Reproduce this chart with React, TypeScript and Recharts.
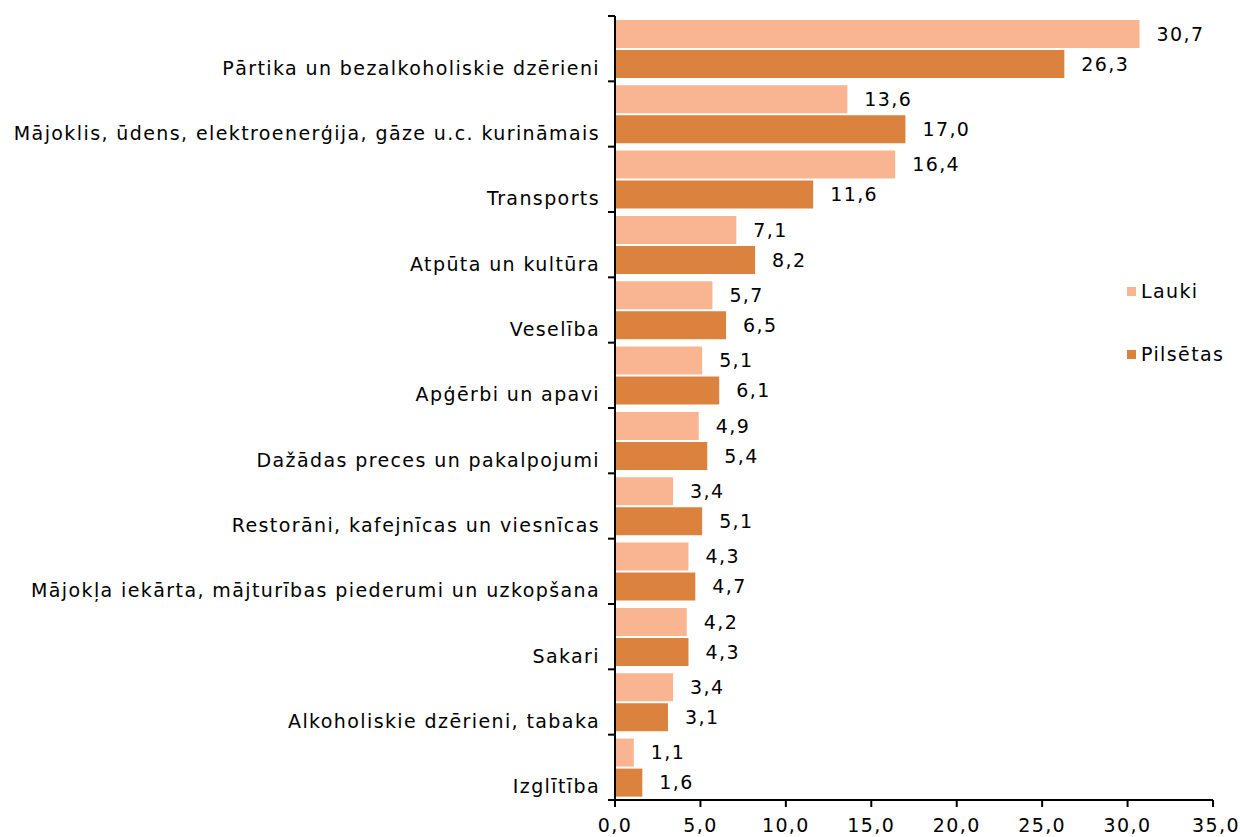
import React from 'react';
import { BarChart, Bar, XAxis, YAxis, LabelList } from 'recharts';

const categories = [
  'Pārtika un bezalkoholiskie dzērieni',
  'Mājoklis, ūdens, elektroenerģija, gāze u.c. kurināmais',
  'Transports',
  'Atpūta un kultūra',
  'Veselība',
  'Apģērbi un apavi',
  'Dažādas preces un pakalpojumi',
  'Restorāni, kafejnīcas un viesnīcas',
  'Mājokļa iekārta, mājturības piederumi un uzkopšana',
  'Sakari',
  'Alkoholiskie dzērieni, tabaka',
  'Izglītība',
];
const lauki = [30.7, 13.6, 16.4, 7.1, 5.7, 5.1, 4.9, 3.4, 4.3, 4.2, 3.4, 1.1];
const pilsetas = [26.3, 17.0, 11.6, 8.2, 6.5, 6.1, 5.4, 5.1, 4.7, 4.3, 3.1, 1.6];
const xTicks = [0, 5, 10, 15, 20, 25, 30, 35];

const data = categories.map((c, i) => ({ name: c, Lauki: lauki[i], Pilsetas: pilsetas[i] }));

const LIGHT = '#F9B591';
const DARK = '#DB823F';
const FONT = "'DejaVu Sans', Verdana, sans-serif";
const FS = 19;
const LS = 1.4;
const fmt = (v: any) => Number(v).toFixed(1).replace('.', ',');

const PLOT_H = 784;
const BAND = PLOT_H / categories.length;

const CatTick = (props: any) => {
  const { x, y, payload, index } = props;
  return (
    <g>
      <line x1={x} x2={x - 7} y1={y - BAND / 2} y2={y - BAND / 2} stroke="#000" strokeWidth={2} />
      {index === categories.length - 1 && (
        <line x1={x} x2={x - 7} y1={y + BAND / 2} y2={y + BAND / 2} stroke="#000" strokeWidth={2} />
      )}
      <text
        x={x - 15}
        y={y + 19}
        textAnchor="end"
        dominantBaseline="central"
        fontSize={FS}
        letterSpacing={LS}
        fontFamily={FONT}
        fill="#000"
      >
        {payload.value}
      </text>
    </g>
  );
};

const XTick = (props: any) => {
  const { x, y, payload, index } = props;
  const last = index === xTicks.length - 1;
  return (
    <text
      x={last ? x + 27 : x}
      y={y + 12}
      textAnchor={last ? 'end' : 'middle'}
      dominantBaseline="central"
      fontSize={FS}
      letterSpacing={LS}
      fontFamily={FONT}
      fill="#000"
    >
      {fmt(payload.value)}
    </text>
  );
};

const legendItems = [
  { n: 'Lauki', c: LIGHT },
  { n: 'Pilsētas', c: DARK },
];

export default function App() {
  return (
    <div style={{ position: 'absolute', left: 0, top: 0, width: 1240, height: 837, background: '#fff', overflow: 'hidden' }}>
      <BarChart
        width={1240}
        height={837}
        data={data}
        layout="vertical"
        margin={{ top: 16, right: 27, bottom: 0, left: 0 }}
        barCategoryGap="6%"
        barGap={2}
      >
        <XAxis
          type="number"
          domain={[0, 35]}
          ticks={xTicks}
          height={37}
          axisLine={{ stroke: '#000', strokeWidth: 2 }}
          tickLine={{ stroke: '#000', strokeWidth: 2 }}
          tickSize={7}
          tickMargin={6}
          tick={<XTick />}
          allowDataOverflow
        />
        <YAxis
          type="category"
          dataKey="name"
          width={615}
          axisLine={{ stroke: '#000', strokeWidth: 2 }}
          tickLine={false}
          tickSize={0}
          tickMargin={0}
          interval={0}
          tick={<CatTick />}
        />
        <Bar dataKey="Lauki" fill={LIGHT} isAnimationActive={false}>
          <LabelList dataKey="Lauki" position="right" offset={17} formatter={fmt} fontSize={FS} letterSpacing={LS} fontFamily={FONT} fill="#000" />
        </Bar>
        <Bar dataKey="Pilsetas" fill={DARK} isAnimationActive={false}>
          <LabelList dataKey="Pilsetas" position="right" offset={17} formatter={fmt} fontSize={FS} letterSpacing={LS} fontFamily={FONT} fill="#000" />
        </Bar>
      </BarChart>
      <div style={{ position: 'absolute', left: 1127, top: 279, fontFamily: FONT, fontSize: FS, letterSpacing: LS, color: '#000' }}>
        {legendItems.map((it, i) => (
          <div key={it.n} style={{ display: 'flex', alignItems: 'center', height: 24, marginBottom: i === 0 ? 39 : 0 }}>
            <span style={{ width: 9, height: 9, background: it.c, display: 'inline-block', marginRight: 5 }} />
            <span>{it.n}</span>
          </div>
        ))}
      </div>
    </div>
  );
}
